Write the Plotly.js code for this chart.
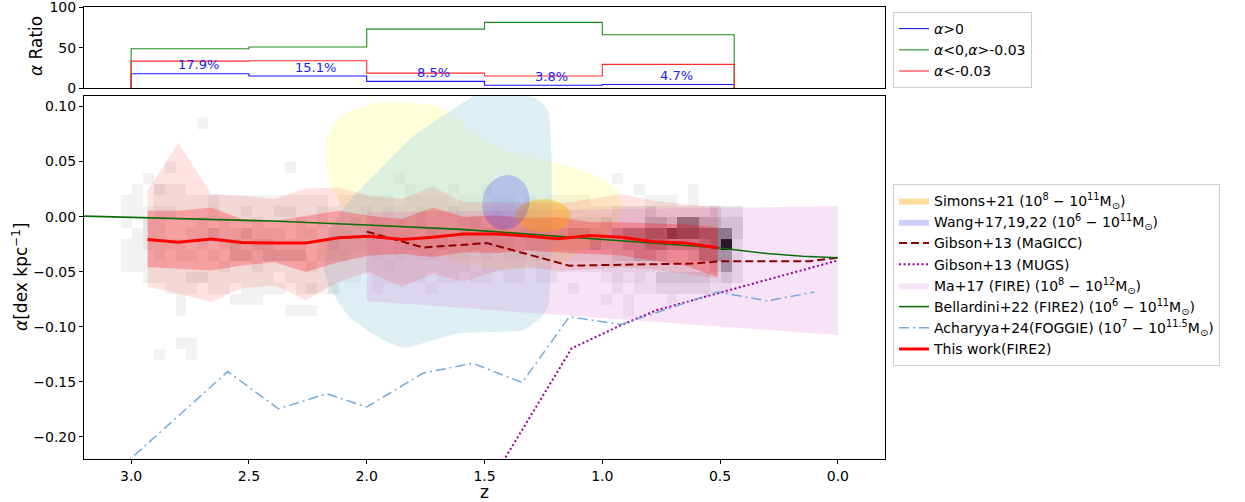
<!DOCTYPE html>
<html><head><meta charset="utf-8">
<script src="https://cdn.plot.ly/plotly-3.0.1.min.js"></script>
<style>html,body{margin:0;padding:0;background:#fff}#chart{width:1245px;height:502px}</style>
</head><body><div id="chart"></div>
<script>
// ---------- ratio panel (histogram steps) ----------
const binEdges = [3.0, 2.5, 2.0, 1.5, 1.0, 0.44];
const ratioPos = [17.9, 15.1, 8.5, 3.8, 4.7];     // alpha > 0
const ratioMid = [48.6, 50.9, 72.8, 81.1, 65.9];  // -0.03 < alpha < 0
const ratioNeg = [33.5, 34.0, 18.7, 15.1, 29.4];  // alpha < -0.03

// ---------- This work (FIRE2) ----------
const workZ   = [2.93, 2.80, 2.66, 2.53, 2.39, 2.26, 2.12, 1.99, 1.85, 1.72, 1.59, 1.45, 1.32, 1.19, 1.05, 0.92, 0.78, 0.65, 0.51];
const workMed = [-0.0208, -0.0232, -0.0202, -0.0235, -0.0238, -0.0238, -0.0192, -0.0178, -0.0208, -0.0187, -0.0157, -0.0157, -0.0175, -0.0200, -0.0172, -0.0187, -0.0228, -0.0240, -0.0283];
const workHiOuter = [0.0235, 0.0670, 0.0205, 0.0190, 0.0160, 0.0256, 0.0265, 0.0190, 0.0160, 0.0274, 0.0130, 0.0130, 0.0130, 0.0120, 0.0160, 0.0205, 0.0145, 0.0115, 0.0084];
const workLoOuter = [-0.0638, -0.0697, -0.0774, -0.0650, -0.0623, -0.0759, -0.0593, -0.0503, -0.0638, -0.0518, -0.0593, -0.0490, -0.0460, -0.0490, -0.0480, -0.0460, -0.0480, -0.0520, -0.0560];
const workHiInner = [0.0054, 0.0054, 0.0084, -0.0021, -0.0036, 0.0009, 0.0054, 0.0009, -0.0021, 0.0084, 0.0000, 0.0010, -0.0010, -0.0006, -0.0050, -0.0050, -0.0060, -0.0070, -0.0096];
const workLoInner = [-0.0458, -0.0473, -0.0488, -0.0443, -0.0413, -0.0503, -0.0413, -0.0352, -0.0337, -0.0368, -0.0322, -0.0330, -0.0310, -0.0322, -0.0340, -0.0352, -0.0400, -0.0443, -0.0548];

// ---------- literature ----------
const bellZ = [3.2, 2.8, 2.4, 2.0, 1.6, 1.2, 0.8, 0.5, 0.3, 0.15, 0.0];
const bellA = [0.0005, -0.0015, -0.0040, -0.0075, -0.0115, -0.0175, -0.0235, -0.0285, -0.0335, -0.0360, -0.0373];
const magiccZ = [2.00, 1.76, 1.49, 1.14, 0.61, 0.50, 0.12, 0.00];
const magiccA = [-0.0136, -0.0280, -0.0240, -0.0445, -0.0425, -0.0405, -0.0405, -0.0373];
const mugsZ = [1.50, 1.13, 0.92, 0.77, 0.49, 0.00];
const mugsA = [-0.250, -0.1195, -0.0985, -0.0850, -0.0684, -0.0397];
const foggieZ = [3.05, 2.59, 2.375, 2.17, 2.00, 1.76, 1.55, 1.34, 1.14, 0.92, 0.51, 0.30, 0.10];
const foggieA = [-0.229, -0.1406, -0.1744, -0.1608, -0.1728, -0.1420, -0.1331, -0.1506, -0.0910, -0.0978, -0.0684, -0.0765, -0.0684];
const maZ = [2.0, 0.0];
const maUpper = [0.0040, 0.0095];
const maLower = [-0.0765, -0.1075];
// ellipses: centre z, centre alpha, half-width z, half-height alpha
const wangEll = [1.409, 0.013, 0.100, 0.025];
const simonsEll = [1.252, 0.0009, 0.1165, 0.0151];
// unlabeled contour blobs
const yelZ = [2.174, 2.110, 1.983, 1.856, 1.686, 1.559, 1.462, 1.229, 1.051, 0.945, 0.915, 0.945, 1.051, 1.178, 1.347, 1.559, 1.771, 1.941, 2.089, 2.165];
const yelA = [0.0687, 0.0912, 0.1021, 0.1039, 0.0994, 0.0795, 0.0641, 0.0506, 0.0397, 0.0253, 0.0099, -0.0081, -0.0262, -0.0416, -0.0488, -0.0443, -0.0307, -0.0172, 0.0054, 0.0370];
const lbZ = [1.547, 1.801, 1.941, 2.081, 2.153, 2.182, 2.161, 2.081, 1.953, 1.843, 1.716, 1.602, 1.335, 1.263, 1.229, 1.229, 1.284, 1.390, 1.517];
const lbA = [0.1093, 0.0732, 0.0434, 0.0126, -0.0108, -0.0470, -0.0623, -0.0894, -0.1093, -0.1192, -0.1120, -0.1057, -0.1030, -0.0921, -0.0804, 0.0958, 0.1075, 0.1120, 0.1120];

// ---------- 2D histogram (count level 0-9), rows alpha 0.085 -> -0.125, cols z 3.02 -> 0.425 ----------
const histZStart = 3.02, histZStep = 0.04634, histAStart = 0.085, histAStep = 0.01;
const histRows = [
"0000000100 0000000000 0000000000 0000000000 0000000000 0000000",
"0000000000 0000000000 0000000000 0000000000 0000000000 0000000",
"0000000000 0000000000 0000000000 0000000000 0000000000 0000000",
"0000000000 0000000000 0000000000 0000000000 0000000000 0000000",
"0000100000 0000010000 0000000000 0000000000 0000000000 0000000",
"0010000000 0000000000 0000010000 0000000000 0000010000 0000000",
"0102110000 0000000000 0000001000 1001000000 0000000100 0010000",
"1101111121 1111111110 1111101111 0110110101 1110000011 1010000",
"1112211121 1211221121 1121211211 2111211111 1111122232 2222322",
"1022111212 1121112121 1212121211 1231221222 2222322244 3664433",
"0122112232 2322212212 2123222132 2323322333 3443345566 8776663",
"1122221212 3233222123 2222123223 2232332333 3334334455 4445692",
"1112122121 3323333122 2112121221 2212122122 2222233443 2235552",
"1111111112 1121111211 1111211111 1101111011 1111222222 2222352",
"0011112211 1111011111 1101111101 1011011011 0000121213 3333232",
"0000111011 0111101212 0001000010 0000000000 0100010112 2222110",
"0000010000 1110000000 0000000000 0000000000 0000101000 1000000",
"0000010000 0000011100 0000000000 0000000000 0000001000 0000000",
"0000000000 0000000000 0000000000 0000000000 0000000000 0000000",
"0000000000 0000000000 0000000000 0000000000 0000000000 0000000",
"0000011000 0000000000 0000000000 0000000000 0000000000 0000000",
"0001001000 0000000000 0000000000 0000000000 0000000000 0000000"
];

// ---------- build ----------
const FONT = 'DejaVu Sans, Liberation Sans, sans-serif';
function stepXY(edges, vals){
  const x=[edges[0]], y=[0];
  for(let k=0;k<vals.length;k++){ x.push(edges[k],edges[k+1]); y.push(vals[k],vals[k]); }
  x.push(edges[edges.length-1]); y.push(0);
  return {x,y};
}
function ellipse(p, tiltDeg){
  const sx=236, sy=1107, t=tiltDeg*Math.PI/180;
  const x=[], y=[];
  for(let k=0;k<=72;k++){
    const f=2*Math.PI*k/72;
    const u=p[2]*sx*Math.cos(f), v=p[3]*sy*Math.sin(f);
    const du=u*Math.cos(t)-v*Math.sin(t), dv=u*Math.sin(t)+v*Math.cos(t);
    x.push(p[0]-du/sx); y.push(p[1]+dv/sy);
  }
  return {x,y};
}
const nCols = histRows[0].replace(/ /g,'').length;
const hx=[], hy=[], hz=[];
for(let j=nCols-1;j>=0;j--) hx.push(histZStart-j*histZStep);
for(let i=histRows.length-1;i>=0;i--){
  hy.push(histAStart-i*histAStep);
  const s=histRows[i].replace(/ /g,'');
  const row=[];
  for(let j=nCols-1;j>=0;j--){ const v=+s[j]; row.push(v>0?v:null); }
  hz.push(row);
}

const traces=[];
traces.push({type:'heatmap', x:hx, y:hy, z:hz, zmin:0, zmax:9, showscale:false, hoverinfo:'skip', zsmooth:false,
  colorscale:[[0,'#ffffff'],[1/9,'#f2f2f2'],[2/9,'#e6e6e6'],[3/9,'#d4d4d4'],[4/9,'#b8b8b8'],[5/9,'#989898'],[6/9,'#7a7a7a'],[7/9,'#5e5e5e'],[8/9,'#484848'],[1,'#000000']],
  xaxis:'x', yaxis:'y', showlegend:false});
traces.push({type:'scatter', x:yelZ.concat([yelZ[0]]), y:yelA.concat([yelA[0]]), mode:'lines', fill:'toself',
  fillcolor:'rgba(255,255,0,0.15)', line:{width:0, shape:'spline', smoothing:0.8}, hoverinfo:'skip', showlegend:false});
traces.push({type:'scatter', x:lbZ.concat([lbZ[0]]), y:lbA.concat([lbA[0]]), mode:'lines', fill:'toself',
  fillcolor:'rgba(173,216,230,0.42)', line:{width:0, shape:'spline', smoothing:0.5}, hoverinfo:'skip', showlegend:false});
traces.push({type:'scatter', x:maZ.concat(maZ.slice().reverse()), y:maUpper.concat(maLower.slice().reverse()), mode:'lines', fill:'toself',
  fillcolor:'rgba(218,112,214,0.2)', line:{width:0}, hoverinfo:'skip', name:'Ma+17 (FIRE) (10<sup>8</sup> − 10<sup>12</sup>M<sub>⊙</sub>)', legendrank:5});
traces.push({type:'scatter', x:workZ.concat(workZ.slice().reverse()), y:workHiOuter.concat(workLoOuter.slice().reverse()), mode:'lines', fill:'toself',
  fillcolor:'rgba(255,0,0,0.11)', line:{width:0}, hoverinfo:'skip', showlegend:false});
traces.push({type:'scatter', x:workZ.concat(workZ.slice().reverse()), y:workHiInner.concat(workLoInner.slice().reverse()), mode:'lines', fill:'toself',
  fillcolor:'rgba(255,0,0,0.25)', line:{width:0}, hoverinfo:'skip', showlegend:false});
const sim=ellipse(simonsEll,0), wan=ellipse(wangEll,-14);
traces.push({type:'scatter', x:sim.x, y:sim.y, mode:'lines', fill:'toself', fillcolor:'rgba(255,165,0,0.4)', line:{width:0}, hoverinfo:'skip',
  name:'Simons+21 (10<sup>8</sup> − 10<sup>11</sup>M<sub>⊙</sub>)', legendrank:1});
traces.push({type:'scatter', x:wan.x, y:wan.y, mode:'lines', fill:'toself', fillcolor:'rgba(40,40,255,0.22)', line:{width:0}, hoverinfo:'skip',
  name:'Wang+17,19,22 (10<sup>6</sup> − 10<sup>11</sup>M<sub>⊙</sub>)', legendrank:2});
traces.push({type:'scatter', x:magiccZ, y:magiccA, mode:'lines', line:{color:'#8b0000', width:2, dash:'8px,4px'}, hoverinfo:'skip',
  name:'Gibson+13 (MaGICC)', legendrank:3});
traces.push({type:'scatter', x:mugsZ, y:mugsA, mode:'lines', line:{color:'#990099', width:2, dash:'2px,2.5px'}, hoverinfo:'skip',
  name:'Gibson+13 (MUGS)', legendrank:4});
traces.push({type:'scatter', x:foggieZ, y:foggieA, mode:'lines', line:{color:'#74aadc', width:1.5, dash:'10px,4px,2px,4px'}, hoverinfo:'skip',
  name:'Acharyya+24(FOGGIE) (10<sup>7</sup> − 10<sup>11.5</sup>M<sub>⊙</sub>)', legendrank:7});
traces.push({type:'scatter', x:bellZ, y:bellA, mode:'lines', line:{color:'#0b6e0b', width:1.6}, hoverinfo:'skip',
  name:'Bellardini+22 (FIRE2) (10<sup>6</sup> − 10<sup>11</sup>M<sub>⊙</sub>)', legendrank:6});
traces.push({type:'scatter', x:workZ, y:workMed, mode:'lines', line:{color:'#ff0000', width:3}, hoverinfo:'skip',
  name:'This work(FIRE2)', legendrank:8});

const sp=stepXY(binEdges, ratioPos), sm=stepXY(binEdges, ratioMid), sn=stepXY(binEdges, ratioNeg);
traces.push({type:'scatter', x:sp.x, y:sp.y, xaxis:'x2', yaxis:'y2', mode:'lines', line:{color:'#1414ff', width:1.1}, hoverinfo:'skip',
  name:'<i>α</i>&gt;0', legend:'legend2'});
traces.push({type:'scatter', x:sm.x, y:sm.y, xaxis:'x2', yaxis:'y2', mode:'lines', line:{color:'#1e8c1e', width:1.1}, hoverinfo:'skip',
  name:'<i>α</i>&lt;0,<i>α</i>&gt;-0.03', legend:'legend2'});
traces.push({type:'scatter', x:sn.x, y:sn.y, xaxis:'x2', yaxis:'y2', mode:'lines', line:{color:'#ff2a2a', width:1.1}, hoverinfo:'skip',
  name:'<i>α</i>&lt;-0.03', legend:'legend2'});

const annotations=[];
for(let k=0;k<ratioPos.length;k++){
  annotations.push({xref:'x2', yref:'y2', x:(binEdges[k]+binEdges[k+1])/2, y:ratioPos[k]+11, text:ratioPos[k].toFixed(1)+'%',
    showarrow:false, xshift:8, font:{family:FONT, size:13, color:'#1a1aff'}, xanchor:'center', yanchor:'middle'});
}
annotations.push({xref:'paper', yref:'paper', x:-0.0799, y:0.4027, text:'<i>α</i>[dex kpc<sup>−1</sup>]', textangle:-90, showarrow:false,
  font:{family:FONT, size:17, color:'#000'}, xanchor:'center', yanchor:'middle'});
annotations.push({xref:'paper', yref:'paper', x:-0.0599, y:0.9137, text:'<i>α</i> Ratio', textangle:-90, showarrow:false,
  font:{family:FONT, size:17, color:'#000'}, xanchor:'center', yanchor:'middle'});
annotations.push({xref:'paper', yref:'paper', x:0.5, y:-0.073, text:'z', showarrow:false,
  font:{family:FONT, size:17, color:'#000'}, xanchor:'center', yanchor:'middle'});

const axBase={showgrid:false, zeroline:false, showline:true, mirror:true, linecolor:'#000', linewidth:1,
  ticks:'outside', ticklen:4, tickwidth:1, tickcolor:'#000', tickfont:{family:FONT, size:14, color:'#000'}, ticklabeloverflow:'allow'};
const layout={
  width:1245, height:502, margin:{l:84, r:360, t:7, b:43},
  paper_bgcolor:'#fff', plot_bgcolor:'#fff',
  font:{family:FONT, size:14, color:'#000'},
  xaxis:Object.assign({}, axBase, {domain:[0,1], range:[3.2,-0.2], anchor:'y', tickvals:[3,2.5,2,1.5,1,0.5,0], tickformat:'.1f'}),
  yaxis:Object.assign({}, axBase, {domain:[0,0.8042], range:[-0.22,0.11], anchor:'x', tickvals:[-0.2,-0.15,-0.1,-0.05,0,0.05,0.1], tickformat:'.2f'}),
  xaxis2:Object.assign({}, axBase, {domain:[0,1], range:[3.2,-0.2], anchor:'y2', showticklabels:false, ticks:''}),
  yaxis2:Object.assign({}, axBase, {domain:[0.8201,1], range:[0,100.05], anchor:'x2', tickvals:[0,50,100]}),
  legend:{x:1.01, xanchor:'left', y:0.6084, yanchor:'top', bgcolor:'#fff', bordercolor:'#cccccc', borderwidth:1,
    font:{family:FONT, size:14, color:'#000'}, itemwidth:30, traceorder:'normal'},
  legend2:{x:1.01, xanchor:'left', y:0.9889, yanchor:'top', bgcolor:'#fff', bordercolor:'#cccccc', borderwidth:1,
    font:{family:FONT, size:14, color:'#000'}, itemwidth:30},
  annotations:annotations,
  showlegend:true
};
Plotly.newPlot('chart', traces, layout, {displayModeBar:false, staticPlot:true});
</script></body></html>
